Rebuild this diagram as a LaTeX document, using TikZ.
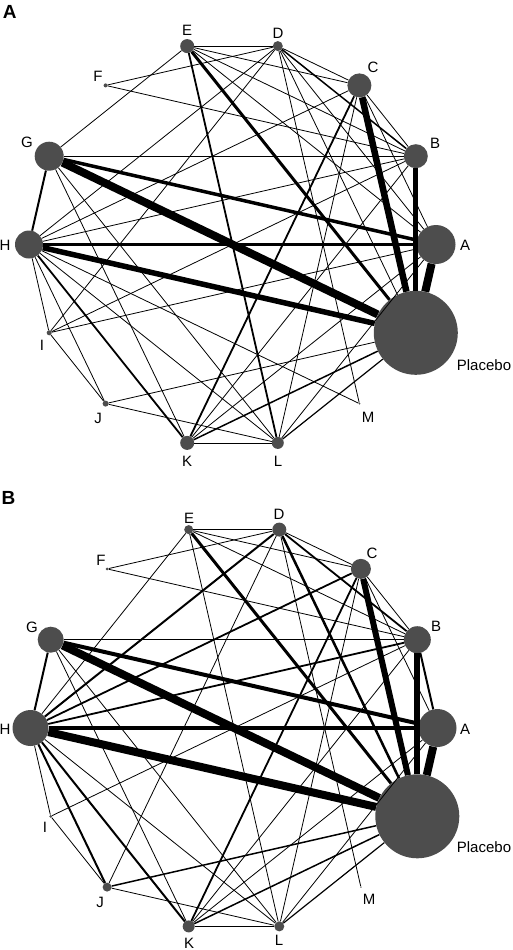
\documentclass[tikz,border=0pt]{standalone}
\usepackage{fontspec}
\setmainfont{Liberation Sans}
\usepackage{xcolor}
\definecolor{trtgray}{RGB}{77,77,77}

\begin{document}
\begin{tikzpicture}[
  x=1pt, y=-1pt,
  trt/.style={circle, fill=trtgray, draw=none, inner sep=0pt, minimum size=#1},
  lbl/.style={font=\fontsize{15}{18}\selectfont, inner sep=0pt},
  panel/.style={font=\fontsize{19}{22}\selectfont\bfseries, inner sep=0pt},
  link/.style={draw=black, line width=#1},
  link/.default=0.8pt
]
  \useasboundingbox (0,0) rectangle (512,950);

  % Panel A.
  \node[panel] (panA) at (9.7,11.7) {A};
  \node[trt=39pt] (A1) at (436,244.5) {};
  \node[trt=24pt] (B1) at (415.8,156.2) {};
  \node[trt=24pt] (C1) at (359.4,85.4) {};
  \node[trt=10pt] (D1) at (277.8,46.1) {};
  \node[trt=14pt] (E1) at (187.2,46.1) {};
  \node[trt=4pt] (F1) at (105.6,85.4) {};
  \node[trt=29pt] (G1) at (49.2,156.2) {};
  \node[trt=28pt] (H1) at (29,244.5) {};
  \node[trt=5pt] (I1) at (49.2,332.8) {};
  \node[trt=6pt] (J1) at (105.6,403.6) {};
  \node[trt=14pt] (K1) at (187.2,442.9) {};
  \node[trt=12pt] (L1) at (277.8,442.9) {};
  \node[trt=2pt] (M1) at (359.4,403.6) {};
  \node[trt=84pt] (P1) at (415.8,332.8) {};

  \node[lbl] (tA1) at (465,245) {A};
  \node[lbl] (tB1) at (435,143) {B};
  \node[lbl] (tC1) at (373,67) {C};
  \node[lbl] (tD1) at (278,33) {D};
  \node[lbl] (tE1) at (187,30) {E};
  \node[lbl] (tF1) at (98,76) {F};
  \node[lbl] (tG1) at (27,142) {G};
  \node[lbl] (tH1) at (5,245) {H};
  \node[lbl] (tI1) at (42,345) {I};
  \node[lbl] (tJ1) at (98,418) {J};
  \node[lbl] (tK1) at (187,461) {K};
  \node[lbl] (tL1) at (278,461) {L};
  \node[lbl] (tM1) at (368,417) {M};
  \node[lbl] (tP1) at (484,365) {Placebo};

  % heavy comparisons
  \draw[link=8pt] (A1) -- (P1);
  \draw[link=8pt] (G1) -- (P1);
  \draw[link=6.5pt] (C1) -- (P1);
  \draw[link=5.5pt] (H1) -- (P1);
  \draw[link=5pt] (B1) -- (P1);
  \draw[link=3.5pt] (G1) -- (A1);
  \draw[link=3pt] (E1) -- (P1);
  \draw[link=2.5pt] (H1) -- (A1);
  \draw[link=2pt] (G1) -- (H1);
  \draw[link=1.8pt] (E1) -- (L1);
  \draw[link=1.8pt] (C1) -- (K1);
  \draw[link=1.8pt] (H1) -- (K1);
  \draw[link=1.5pt] (D1) -- (B1);
  \draw[link=1.5pt] (K1) -- (P1);
  \draw[link=1.2pt] (G1) -- (B1);
  \draw[link=1.2pt] (L1) -- (P1);

  % single trials
  \draw[link] (E1) -- (D1);
  \draw[link] (E1) -- (G1);
  \draw[link] (E1) -- (C1);
  \draw[link] (E1) -- (B1);
  \draw[link] (E1) -- (A1);
  \draw[link] (F1) -- (D1);
  \draw[link] (F1) -- (B1);
  \draw[link] (D1) -- (C1);
  \draw[link] (D1) -- (H1);
  \draw[link] (D1) -- (I1);
  \draw[link] (D1) -- (M1);
  \draw[link] (D1) -- (P1);
  \draw[link] (D1) -- (A1);
  \draw[link] (C1) -- (B1);
  \draw[link] (C1) -- (A1);
  \draw[link] (C1) -- (H1);
  \draw[link] (C1) -- (L1);
  \draw[link] (B1) -- (H1);
  \draw[link] (B1) -- (I1);
  \draw[link] (B1) -- (K1);
  \draw[link] (A1) -- (I1);
  \draw[link] (A1) -- (K1);
  \draw[link] (A1) -- (L1);
  \draw[link] (G1) -- (K1);
  \draw[link] (G1) -- (L1);
  \draw[link] (H1) -- (I1);
  \draw[link] (H1) -- (J1);
  \draw[link] (H1) -- (L1);
  \draw[link] (H1) -- (M1);
  \draw[link] (I1) -- (J1);
  \draw[link] (J1) -- (L1);
  \draw[link] (J1) -- (P1);
  \draw[link] (K1) -- (L1);

  % Panel B.
  \node[panel] (panB) at (8.5,497.5) {B};
  \begin{scope}[shift={(1.5,483.5)}]
  \node[trt=38pt] (A2) at (436,244.5) {};
  \node[trt=27pt] (B2) at (415.8,156.2) {};
  \node[trt=20pt] (C2) at (359.4,85.4) {};
  \node[trt=14pt] (D2) at (277.8,46.1) {};
  \node[trt=9pt] (E2) at (187.2,46.1) {};
  \node[trt=3pt] (F2) at (105.6,85.4) {};
  \node[trt=26pt] (G2) at (49.2,156.2) {};
  \node[trt=36pt] (H2) at (29,244.5) {};
  \node[trt=3pt] (I2) at (49.2,332.8) {};
  \node[trt=9pt] (J2) at (105.6,403.6) {};
  \node[trt=12pt] (K2) at (187.2,442.9) {};
  \node[trt=10pt] (L2) at (277.8,442.9) {};
  \node[trt=1.5pt] (M2) at (359.4,403.6) {};
  \node[trt=84pt] (P2) at (415.8,332.8) {};

  \node[lbl] (tA2) at (463.5,245.5) {A};
  \node[lbl] (tB2) at (434.5,142.5) {B};
  \node[lbl] (tC2) at (370.5,69.5) {C};
  \node[lbl] (tD2) at (277.5,30.5) {D};
  \node[lbl] (tE2) at (187.5,34.5) {E};
  \node[lbl] (tF2) at (99.5,76.5) {F};
  \node[lbl] (tG2) at (30.5,143.5) {G};
  \node[lbl] (tH2) at (3.5,245.5) {H};
  \node[lbl] (tI2) at (43.5,343.5) {I};
  \node[lbl] (tJ2) at (98.5,418.5) {J};
  \node[lbl] (tK2) at (187.5,459.5) {K};
  \node[lbl] (tL2) at (277.5,456.5) {L};
  \node[lbl] (tM2) at (367.5,415.5) {M};
  \node[lbl] (tP2) at (482.5,363.5) {Placebo};
  \end{scope}

  % heavy comparisons
  \draw[link=8pt] (A2) -- (P2);
  \draw[link=8pt] (G2) -- (P2);
  \draw[link=8pt] (H2) -- (P2);
  \draw[link=6pt] (C2) -- (P2);
  \draw[link=6pt] (B2) -- (P2);
  \draw[link=4pt] (G2) -- (A2);
  \draw[link=3.5pt] (H2) -- (A2);
  \draw[link=3pt] (E2) -- (P2);
  \draw[link=2.5pt] (D2) -- (P2);
  \draw[link=2pt] (G2) -- (H2);
  \draw[link=2pt] (B2) -- (A2);
  \draw[link=2pt] (H2) -- (K2);
  \draw[link=2pt] (H2) -- (J2);
  \draw[link=2pt] (H2) -- (D2);
  \draw[link=1.8pt] (H2) -- (B2);
  \draw[link=1.8pt] (H2) -- (C2);
  \draw[link=1.8pt] (C2) -- (K2);
  \draw[link=1.8pt] (D2) -- (B2);
  \draw[link=1.5pt] (J2) -- (P2);
  \draw[link=1.5pt] (K2) -- (P2);
  \draw[link=1.2pt] (L2) -- (P2);
  \draw[link=1.2pt] (G2) -- (B2);

  % single trials
  \draw[link] (E2) -- (D2);
  \draw[link] (E2) -- (H2);
  \draw[link] (E2) -- (L2);
  \draw[link] (E2) -- (B2);
  \draw[link] (E2) -- (C2);
  \draw[link] (F2) -- (D2);
  \draw[link] (F2) -- (B2);
  \draw[link] (D2) -- (C2);
  \draw[link] (D2) -- (J2);
  \draw[link] (D2) -- (M2);
  \draw[link] (C2) -- (B2);
  \draw[link] (C2) -- (A2);
  \draw[link] (C2) -- (L2);
  \draw[link] (B2) -- (I2);
  \draw[link] (B2) -- (K2);
  \draw[link] (A2) -- (K2);
  \draw[link] (A2) -- (L2);
  \draw[link] (G2) -- (K2);
  \draw[link] (G2) -- (L2);
  \draw[link] (H2) -- (I2);
  \draw[link] (H2) -- (L2);
  \draw[link] (I2) -- (J2);
  \draw[link] (J2) -- (L2);
  \draw[link] (K2) -- (L2);
\end{tikzpicture}
\end{document}
